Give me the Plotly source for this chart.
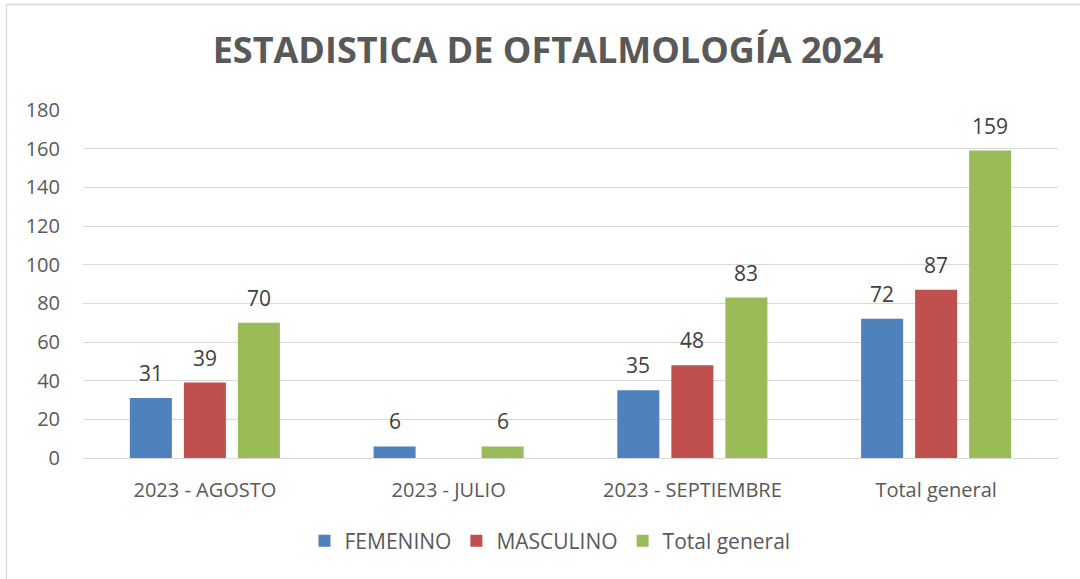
import plotly.graph_objects as go

categories = ["2023 - AGOSTO", "2023 - JULIO", "2023 - SEPTIEMBRE", "Total general"]
femenino = [31, 6, 35, 72]
masculino = [39, None, 48, 87]
total_general = [70, 6, 83, 159]
y_ticks = [0, 20, 40, 60, 80, 100, 120, 140, 160, 180]

FONT = "Open Sans"
series = [
    ("FEMENINO", femenino, "#4f81bd"),
    ("MASCULINO", masculino, "#c0504d"),
    ("Total general", total_general, "#9bbb59"),
]

L, T = 83, 110
PLOT_W, PLOT_H = 975, 348
R = 1080 - L - PLOT_W
B = 579 - T - PLOT_H

fig = go.Figure()
annotations = []
slot_px = 54
for i, (name, vals, color) in enumerate(series):
    fig.add_trace(go.Bar(
        x=categories, y=vals, name=name,
        marker=dict(color=color, line=dict(width=0)),
        hoverinfo="skip",
    ))
    for c, v in zip(categories, vals):
        if v is None:
            continue
        annotations.append(dict(
            x=c, y=v, xref="x", yref="y", text=str(v), showarrow=False,
            xshift=(i - 1) * slot_px, yshift=25, yanchor="middle",
            font=dict(family=FONT, size=21, color="#404040"),
        ))

fig.update_layout(
    width=1080, height=579,
    paper_bgcolor="white", plot_bgcolor="white",
    margin=dict(l=L, r=R, t=T, b=B, autoexpand=False),
    barmode="group", bargap=0.335, bargroupgap=0.222,
    title=dict(text="<b>ESTADISTICA DE OFTALMOLOGÍA 2024</b>",
               x=548 / 1080, xanchor="center", y=1 - 50 / 579, yanchor="middle",
               font=dict(family=FONT, size=36, color="#595959")),
    legend=dict(orientation="h", x=(550 - L) / PLOT_W, xanchor="center",
                y=(T + PLOT_H - 541) / PLOT_H, yanchor="middle",
                font=dict(family=FONT, size=21, color="#595959"),
                tracegroupgap=0),
    showlegend=True,
    annotations=annotations,
    font=dict(family=FONT, color="#595959"),
    shapes=[dict(type="rect", xref="paper", yref="paper",
                 x0=(6.5 - L) / PLOT_W, x1=(1095 - L) / PLOT_W,
                 y0=(T + PLOT_H - 600) / PLOT_H, y1=(T + PLOT_H - 4.5) / PLOT_H,
                 line=dict(color="#d9d9d9", width=1.3), fillcolor="rgba(0,0,0,0)",
                 layer="below")],
)
fig.update_xaxes(
    showgrid=False, showline=True, linecolor="#d9d9d9", linewidth=1.3,
    tickfont=dict(family=FONT, size=20, color="#595959"),
    ticks="", ticklabelstandoff=14,
)
fig.update_yaxes(
    range=[0, 180], tickvals=y_ticks, showgrid=True, gridcolor="#d9d9d9", gridwidth=1.3,
    zeroline=False, showline=False,
    tickfont=dict(family=FONT, size=20, color="#595959"),
    ticks="", ticklabelstandoff=22,
)

fig.write_html("out.html", config={"displayModeBar": False},
               post_script="document.body.style.margin='0';")
